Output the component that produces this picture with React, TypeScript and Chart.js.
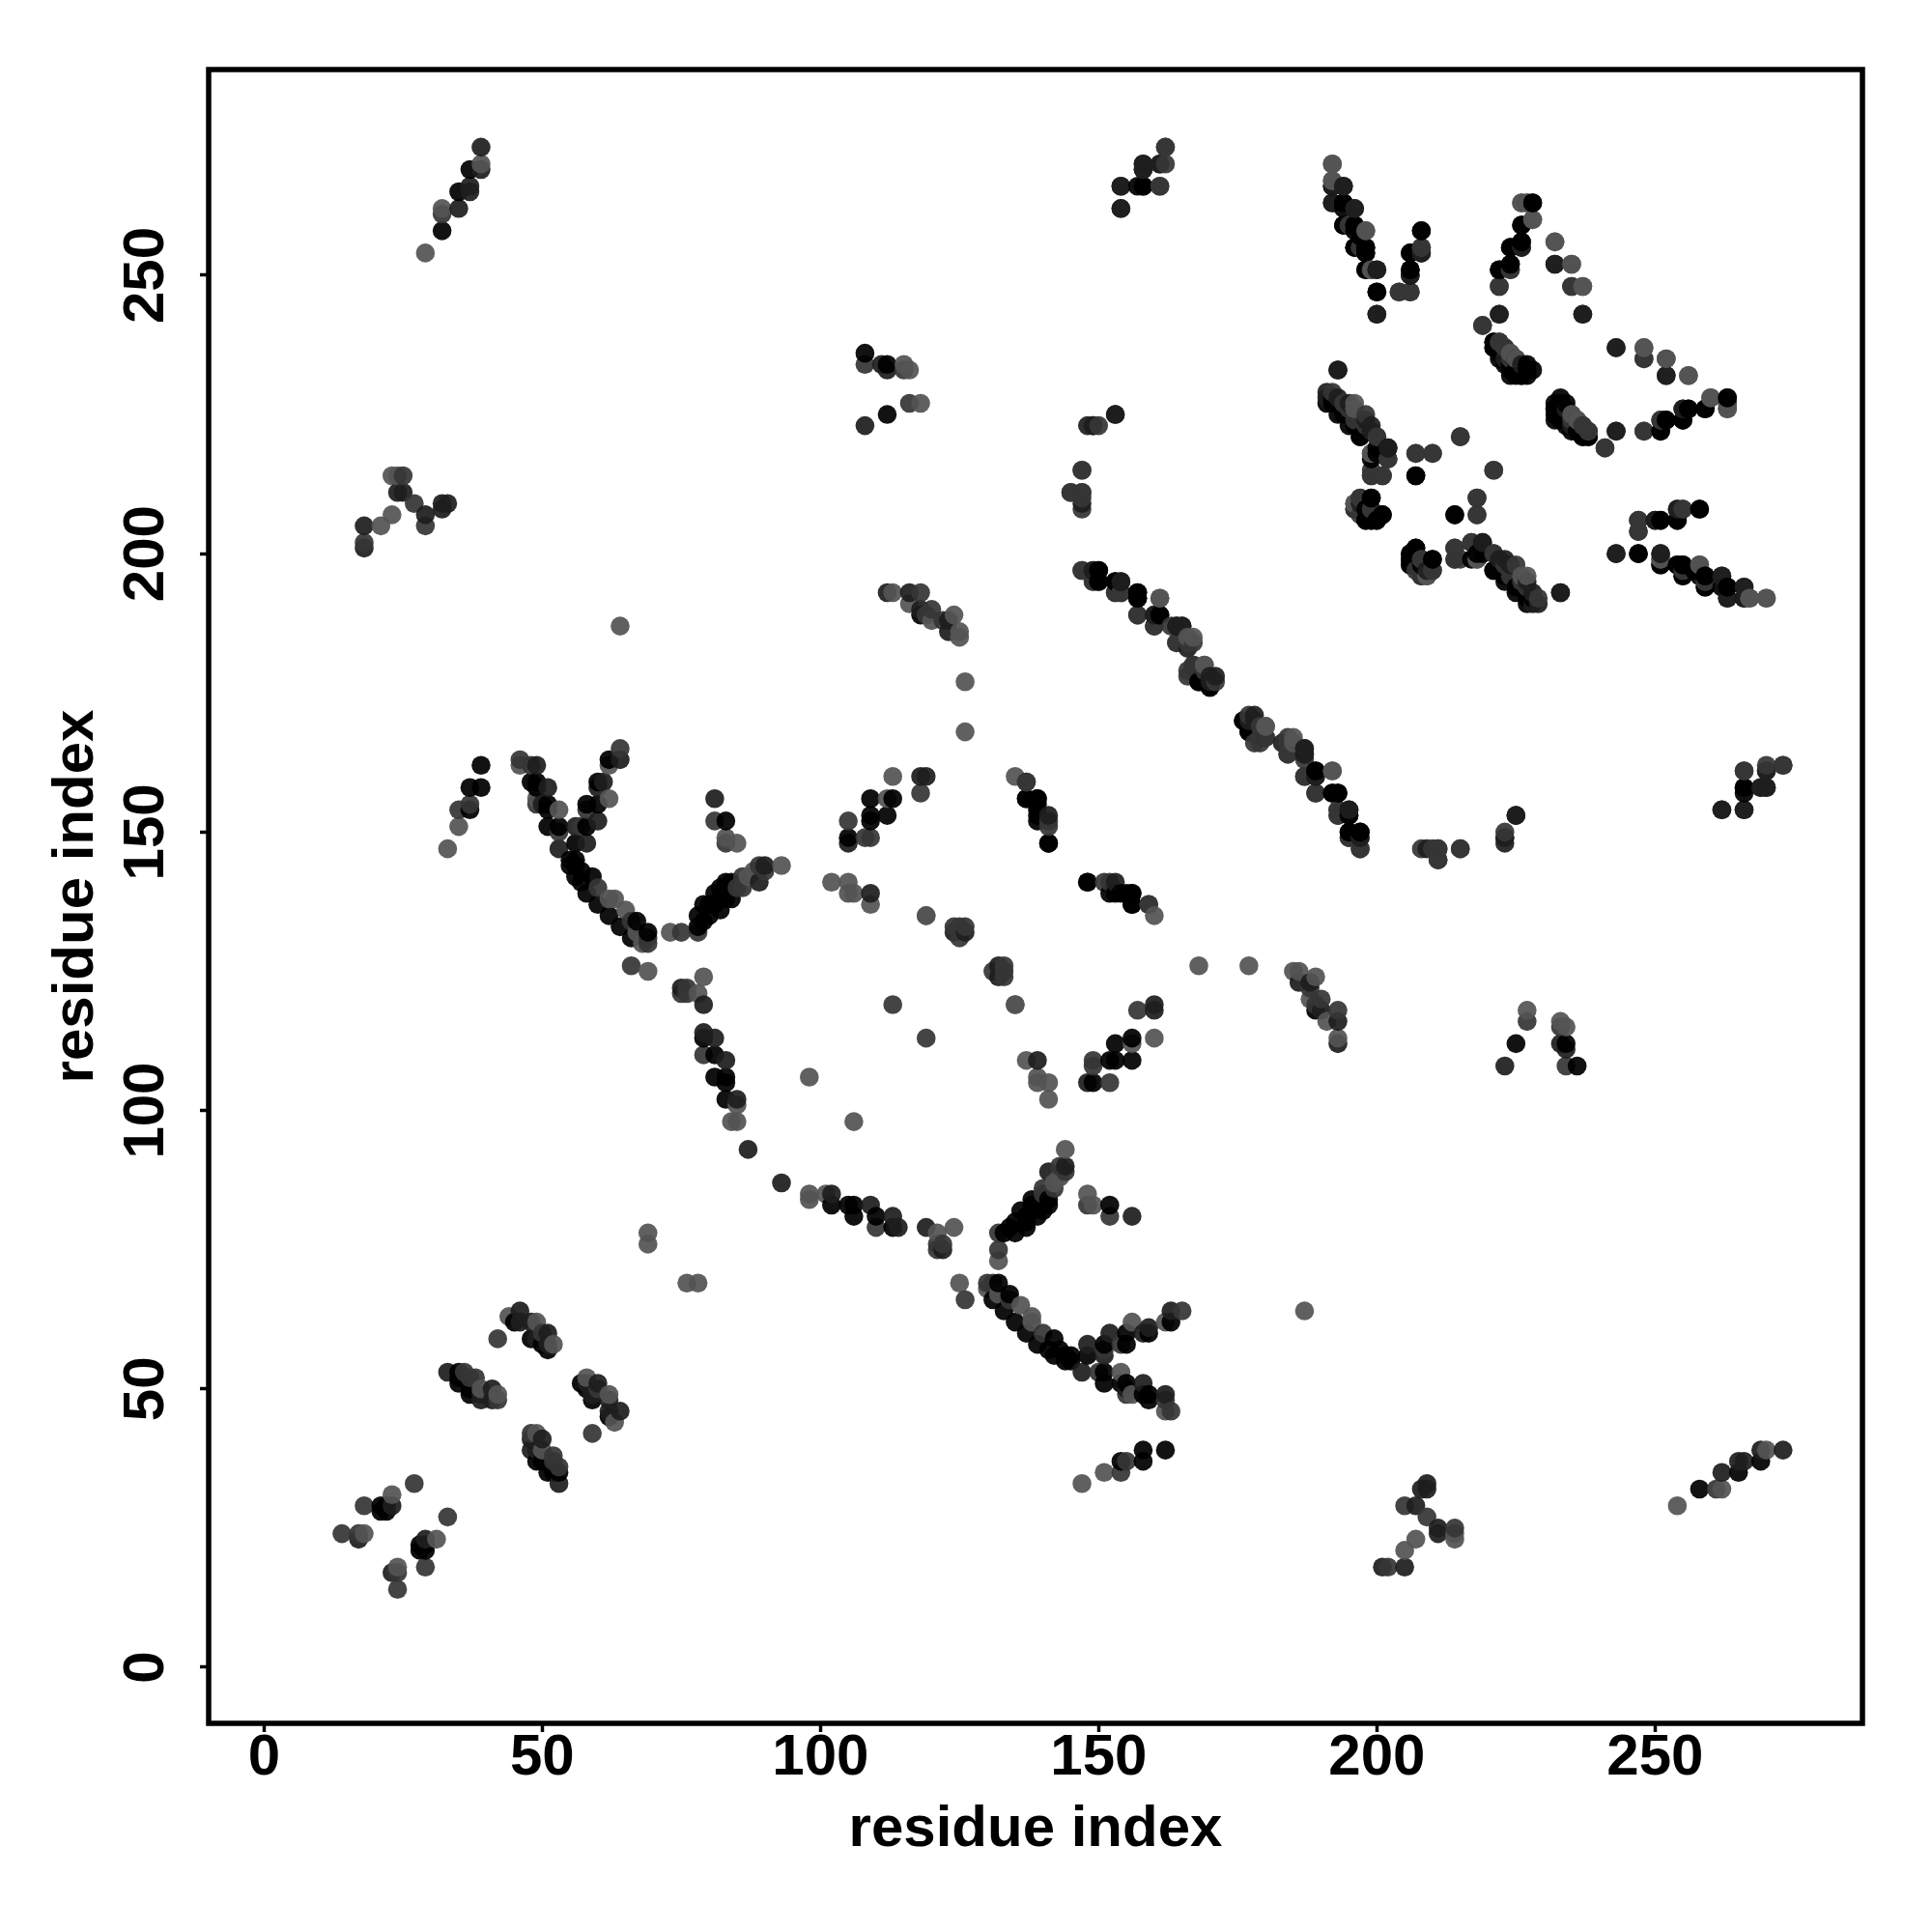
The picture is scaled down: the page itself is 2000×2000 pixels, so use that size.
import React, { useEffect, useRef } from "react";
import { Chart, registerables } from "chart.js";

Chart.register(...registerables);

const axisTitle = "residue index";
const axisTicks = [0, 50, 100, 150, 200, 250];
const xAxisMin = -9.95;
const xAxisMax = 287.27;
const yAxisMin = -10.07;
const yAxisMax = 286.95;

// Contacts as [i, j] with i < j. The contact map is symmetric.
const blackContacts = [
  [37,154],[37,158],[39,158],[39,162],[48,159],[49,159],[49,158],[51,155],[51,154],[51,151],[53,151],[62,163],[60,159],[58,155],[60,155],[58,151],[56,148],[55,145],[56,145],[55,144],[56,144],[57,143],[56,142],[57,141],[59,142],[58,139],[60,137],[62,135],[64,133],[67,134],[66,131],[69,132],[84,141],[83,141],[82,140],[81,139],[84,138],[82,138],[81,137],[83,138],[82,136],[79,137],[78,135],[80,135],[79,134],[78,133],[80,137],[83,152],
  [37,269],[35,265],[32,258],[108,236],[112,234],[112,225],[118,189],[109,156],[113,156],[112,153],[109,153],[109,152],[105,149],[137,156],[139,156],[139,153],[141,148],[148,141],[152,139],[154,139],[155,139],[156,139],[156,137],
  [150,197],[150,195],[153,195],[157,193],[157,192],[161,189],[168,177],[170,176],[176,170],[177,168],[189,161],[192,157],[193,157],[195,154],[195,153],[195,150],[197,150],
  [153,225],[158,266],[194,263],[194,259],[196,259],[196,258],[196,255],[198,255],[198,254],[198,251],[200,247],[208,258],[206,254],[206,251],[228,263],[226,259],[226,256],[224,255],[224,252],[222,251],
  [221,238],[221,237],[222,236],[224,234],[225,233],[226,232],[227,232],[228,233],[227,234],
  [263,228],[259,226],[256,226],[255,224],[252,224],[251,222],[233,227],[232,226],[232,225],[232,224],[235,222],[237,221],[238,221],[233,224],[234,223],
  [258,208],[254,206],[251,206],[250,206],[247,200],[251,198],[254,198],[255,198],[255,196],[257,197],[259,196],[259,194],[262,194],[263,194],[266,192],
  [191,227],[193,227],[193,225],[195,223],[197,221],[199,217],[207,214],[214,207],[199,210],[198,208],[198,206],[199,206],[200,206],[201,207],
  [207,201],[206,200],[206,199],[206,198],[210,199],[218,200],[219,202],[219,200],[221,197],[223,196],[225,194],[227,192],[228,192],[233,193],
  [266,157],[266,158],
  [21,29],[22,29],[21,28],[22,28],[35,53],[35,51],[35,52],[37,50],[37,49],[45,62],[48,59],[50,58],[51,57],
  [79,113],[81,110],[81,106],[83,106],[83,105],[83,102],
];
const darkContacts = [
  [49,162],[51,158],[50,155],[64,163],[61,159],[60,158],[60,152],[56,151],[58,148],[53,147],[90,144],[89,141],[81,156],[79,119],[75,122],[109,139],[124,132],[126,132],
  [39,273],[39,269],[37,266],[37,265],[35,262],
  [18,205],[18,201],[24,211],[25,211],[29,207],[32,208],[33,209],[32,209],
  [111,234],[112,233],[108,223],[112,193],[116,193],[118,190],[123,186],[123,188],
  [118,160],[119,160],[105,148],[141,153],
  [149,197],[154,195],[160,189],[164,187],[165,187],[166,183],[167,180],[171,178],[177,170],[178,170],[187,165],[187,164],[189,160],[197,149],
  [148,223],[149,223],[147,209],[154,266],[154,262],[158,270],[158,269],[161,270],
  [192,266],[194,266],[192,263],[196,262],[200,251],[200,243],[206,250],[208,254],
  [226,255],[222,243],[243,237],[232,252],[237,243],[223,235],[226,234],
  [252,232],[255,226],[243,222],[235,225],
  [254,208],[243,200],[251,200],[255,197],[262,196],[263,192],[266,194],
  [191,229],[191,228],[193,233],[198,224],[199,223],[202,219],[196,208],
  [209,197],[221,200],[222,199],[227,195],[228,193],
  [262,154],[266,154],[269,158],[270,158],[270,161],[225,153],[223,149],
  [17,23],[23,29],[33,53],[39,48],[39,49],[41,50],[41,48],[46,64],[46,62],[48,62],[49,59],[51,60],[51,58],
  [79,114],[81,113],[83,109],[85,102],[87,93],
];
const midContacts = [
  [35,154],[37,155],[46,163],[48,162],[49,155],[53,150],[64,165],[58,154],[57,151],[60,140],[66,134],[69,130],[69,131],[66,126],[76,122],[75,121],[76,121],
  [90,143],[89,144],[86,142],[86,140],[85,140],[78,132],[75,132],[81,152],[83,148],
  [32,261],[18,202],[25,214],[27,209],[29,205],
  [108,234],[115,233],[116,227],[118,193],[120,190],[119,189],[122,188],[113,119],
  [118,157],[105,152],[108,149],[109,149],[124,133],[125,133],[126,133],[125,131],
  [137,159],[141,152],[151,141],[159,137],
  [147,197],[149,195],[153,193],[154,193],[157,189],[160,187],[163,187],[164,184],[166,184],[166,179],[169,179],[171,177],[166,178],[179,167],[180,167],[184,167],[184,164],[187,160],[189,157],[193,154],[193,153],[195,149],[197,147],
  [147,215],[145,211],[147,211],[161,266],[162,270],[162,273],
  [195,259],[198,258],[197,255],[204,247],[206,247],[208,255],
  [227,263],[224,251],[222,248],[219,241],[235,248],[222,238],[223,237],[224,236],
  [248,235],[252,235],[251,224],[248,222],[241,219],[237,223],[238,222],[235,224],
  [255,208],[247,206],[247,204],[251,199],[259,195],
  [194,227],[195,226],[196,224],[198,223],[200,221],[202,217],[199,214],[201,214],[207,218],[210,218],[215,221],[221,215],[218,210],[218,207],
  [197,210],[199,208],[208,199],[210,197],[208,196],[207,197],[214,201],[214,199],[215,199],[217,202],[225,198],[229,192],
  [266,161],[273,162],[223,150],[208,147],[210,147],[211,147],[211,145],[215,147],
  [14,24],[17,24],[18,29],[27,33],[36,53],[37,52],[38,52],[42,48],[42,59],[50,60],[79,110],
];
const lightContacts = [
  [33,147],[35,151],[46,162],[49,156],[53,154],[62,162],[62,156],[62,138],[63,138],[65,136],[67,132],[68,130],[69,125],[79,124],[78,121],[93,144],[88,143],[87,142],[83,149],[85,148],[73,132],
  [39,270],[32,262],[29,254],[21,205],[23,207],[23,214],[24,214],[64,187],
  [115,234],[116,233],[118,227],[113,193],[116,191],[120,188],[124,189],[125,186],[125,185],[126,177],[126,168],
  [113,160],[112,156],[102,141],[105,141],[105,139],[106,139],[109,137],[119,135],[135,160],[135,119],
  [161,192],[166,185],[169,180],[180,169],[185,167],[192,161],
  [192,270],[192,267],[199,251],[226,263],[228,260],[232,256],[235,252],[237,248],[225,235],
  [248,237],[256,232],[260,228],[263,227],[263,226],[236,224],
  [258,198],[267,192],[270,192],
  [196,226],[199,218],[196,209],[209,196],[218,199],[227,196],
  [18,24],[23,31],[39,50],[42,49],[44,63],[49,62],[52,58],
  [85,101],[84,98],[85,98],[69,78],[69,76],[98,106],
];

const shades: [number[][], string][] = [
  [blackContacts, "rgba(0,0,0,0.93)"],
  [darkContacts, "rgba(30,30,30,0.93)"],
  [midContacts, "rgba(54,54,54,0.93)"],
  [lightContacts, "rgba(84,84,84,0.93)"],
];

const framePlugin = {
  id: "frame",
  afterDatasetsDraw(chart: any) {
    const { ctx, chartArea: a } = chart;
    ctx.save();
    ctx.lineWidth = 5.5;
    ctx.strokeStyle = "#000";
    ctx.strokeRect(a.left, a.top, a.right - a.left, a.bottom - a.top);
    ctx.restore();
  },
};

export default function App() {
  const ref = useRef<HTMLCanvasElement>(null);
  useEffect(() => {
    document.body.style.margin = "0";
    const points: { x: number; y: number; c: string }[] = [];
    for (const [list, c] of shades) {
      for (const [i, j] of list) {
        points.push({ x: i, y: j, c });
        points.push({ x: j, y: i, c });
      }
    }
    points.sort((p, q) => p.x - q.x || p.y - q.y);
    const font = { family: "'Liberation Sans'", weight: "bold" as const };
    const tickCallback = (v: any) => (axisTicks.includes(v) ? String(v) : "");
    const chart = new Chart(ref.current!, {
      type: "scatter",
      data: {
        datasets: [
          {
            data: points.map((p) => ({ x: p.x, y: p.y })),
            pointBackgroundColor: points.map((p) => p.c),
            pointBorderWidth: 0,
            pointRadius: 9.8,
          } as any,
        ],
      },
      options: {
        animation: false,
        responsive: false,
        devicePixelRatio: 1,
        layout: { padding: { top: 72, right: 72, left: 0, bottom: 0 } },
        plugins: { legend: { display: false }, tooltip: { enabled: false } },
        scales: {
          x: {
            type: "linear",
            min: xAxisMin,
            max: xAxisMax,
            afterFit: (s: any) => { s.height = 216; },
            border: { display: false },
            grid: { drawOnChartArea: false, drawTicks: true, tickLength: 9, tickWidth: 3.5, tickColor: "#000" },
            ticks: { stepSize: 50, includeBounds: false, color: "#000", padding: -9, maxRotation: 0, autoSkip: false, callback: tickCallback, font: { ...font, size: 60 } },
            title: { display: true, text: axisTitle, color: "#000", font: { ...font, size: 60 }, padding: { top: 0, bottom: 70 } },
          },
          y: {
            type: "linear",
            min: yAxisMin,
            max: yAxisMax,
            afterFit: (s: any) => { s.width = 216; },
            border: { display: false },
            grid: { drawOnChartArea: false, drawTicks: true, tickLength: 9, tickWidth: 3.5, tickColor: "#000" },
            ticks: { stepSize: 50, includeBounds: false, color: "#000", padding: 4, minRotation: 90, maxRotation: 90, autoSkip: false, crossAlign: "center", callback: tickCallback, font: { ...font, size: 60 } },
            title: { display: true, text: axisTitle, color: "#000", font: { ...font, size: 60 }, padding: { top: 43, bottom: 0 } },
          },
        },
      } as any,
      plugins: [framePlugin],
    });
    return () => chart.destroy();
  }, []);
  return <canvas ref={ref} width={2000} height={2000} style={{ display: "block", width: 2000, height: 2000 }} />;
}
